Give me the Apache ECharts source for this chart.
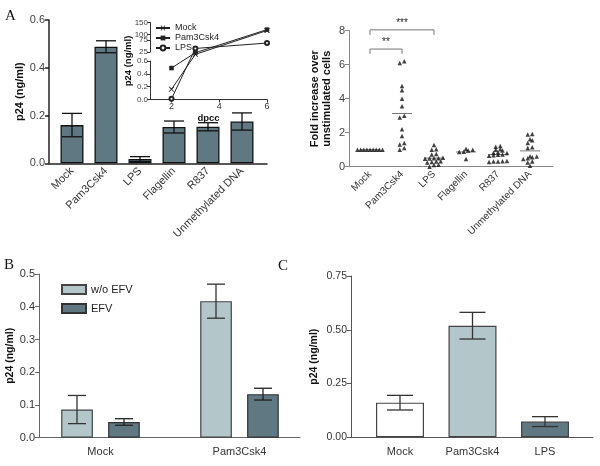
<!DOCTYPE html>
<html><head><meta charset="utf-8">
<script src="https://cdn.jsdelivr.net/npm/echarts@6/dist/echarts.min.js"></script>
<style>html,body{margin:0;padding:0;background:#fff}#c{width:600px;height:466px}</style>
</head><body><div id="c"></div>
<script>
// ---------- Panel A (left): bar chart ----------
const aCategories = ['Mock', 'Pam3Csk4', 'LPS', 'Flagellin', 'R837', 'Unmethylated DNA'];
const aMeans  = [0.160, 0.488, 0.018, 0.152, 0.153, 0.175];
const aErrors = [0.049, 0.025, 0.010, 0.025, 0.017, 0.036];
const aYTicks = [0, 0.2, 0.4, 0.6];

// ---------- Panel A inset: kinetics (broken y axis) ----------
const insetDays = [2, 3, 6];
const insetMock = [0.16, 15, 116];
const insetPam  = [0.49, 22, 120];
const insetLPS  = [0.01, 40, 63];
const insetLowTicks  = [0, 0.2, 0.4, 0.6];
const insetHighTicks = [25, 50, 75, 100, 125, 150];
const insetDayTicks  = [2, 4, 6];

// ---------- Panel A (right): fold increase scatter ----------
const fCategories = ['Mock', 'Pam3Csk4', 'LPS', 'Flagellin', 'R837', 'Unmethylated DNA'];
const fMock  = [1.0, 1.0, 1.0, 1.0, 1.0, 1.0, 1.0, 1.0, 1.0];
const fPam   = [6.1, 6.2, 4.75, 4.5, 4.0, 3.55, 2.9, 3.0, 2.2, 1.8, 1.4, 1.3, 1.0, 1.1];
const fLPS   = [1.27, 1.03, 1.0, 0.75, 0.72, 0.5, 0.5, 0.48, 0.52, 0.47, 0.3, 0.28, 0.32, 0.25, 0.12, 0.1, 0.0];
const fFlag  = [1.0, 0.88, 0.86, 0.95, 1.05, 0.45];
const fR837  = [1.22, 1.18, 1.0, 1.02, 0.95, 0.85, 0.82, 0.8, 0.72, 0.68, 0.65, 0.7, 0.32, 0.3, 0.3, 0.33, 0.28];
const fUnme  = [1.9, 1.92, 1.62, 1.55, 1.4, 1.15, 1.1, 0.62, 0.6, 0.55, 0.5, 0.45, 0.3, 0.25, 0.05];
const fYTicks = [0, 2, 4, 6, 8];
const fBrackets = [
  {from: 0, to: 1, y: 6.92, drop: 0.28, label: '**'},
  {from: 0, to: 2, y: 8.05, drop: 0.3, label: '***'}
];

// ---------- Panel B ----------
const bCategories = ['Mock', 'Pam3Csk4'];
const bSeriesNames = ['w/o EFV', 'EFV'];
const bWithout    = [0.086, 0.417];
const bWithoutErr = [0.043, 0.052];
const bEFV        = [0.048, 0.133];
const bEFVErr     = [0.010, 0.018];
const bYTicks = [0, 0.1, 0.2, 0.3, 0.4, 0.5];

// ---------- Panel C ----------
const cCategories = ['Mock', 'Pam3Csk4', 'LPS'];
const cMeans  = [0.161, 0.519, 0.073];
const cErrors = [0.034, 0.062, 0.023];
const cYTicks = [0, 0.25, 0.5, 0.75];

// ---------- styles ----------
const FONT = "'Liberation Sans', Arial, sans-serif";
const SLATE = '#5f7882';
const LIGHT = '#b3c6ca';
const cBarColors = ['#ffffff', LIGHT, SLATE];

// broken-axis geometry for the inset (pixels within the inset)
const insetBottom = 99.5, insetLowTop = 61, insetHighBottom = 52, insetHighTop = 22.5;
const insetFull = insetBottom - insetHighTop;
function insetTf(v) {
  const lo = insetLowTicks[0], hi = insetLowTicks[insetLowTicks.length - 1];
  if (v <= hi) return (v - lo) / (hi - lo) * (insetBottom - insetLowTop);
  const h0 = insetHighTicks[0], h1 = insetHighTicks[insetHighTicks.length - 1];
  return (insetBottom - insetHighBottom) + (v - h0) / (h1 - h0) * (insetHighBottom - insetHighTop);
}

function swarm(vals, idx) {
  const sorted = vals.slice().sort((a, b) => a - b);
  const rows = [];
  sorted.forEach(v => {
    const r = rows[rows.length - 1];
    if (r && v - r[0] < 0.16) r.push(v); else rows.push([v]);
  });
  const pts = [];
  rows.forEach(r => {
    const n = r.length;
    const sp = n > 1 ? Math.min(0.14, 0.78 / (n - 1)) : 0;
    r.forEach((v, k) => pts.push([idx + (k - (n - 1) / 2) * sp, v]));
  });
  return pts;
}
const fGroups = [fMock, fPam, fLPS, fFlag, fR837, fUnme];
const fPoints = [];
fGroups.forEach((g, i) => swarm(g, i).forEach(p => fPoints.push(p)));
const fMeanData = fGroups.map((g, i) => [i, g.reduce((s, v) => s + v, 0) / g.length]);

function errSeries(xi, yi, means, errs, cap, offset, color) {
  return {
    type: 'custom', xAxisIndex: xi, yAxisIndex: yi, z: 10, silent: true,
    data: means.map((m, i) => [i, m - errs[i], m + errs[i]]),
    renderItem(params, api) {
      const x = api.value(0);
      const lo = api.coord([x, api.value(1)]);
      const hi = api.coord([x, api.value(2)]);
      const cx = lo[0] + offset;
      const st = {stroke: color || '#222', lineWidth: 1.3};
      return {type: 'group', children: [
        {type: 'line', shape: {x1: cx, y1: lo[1], x2: cx, y2: hi[1]}, style: st},
        {type: 'line', shape: {x1: cx - cap / 2, y1: lo[1], x2: cx + cap / 2, y2: lo[1]}, style: st},
        {type: 'line', shape: {x1: cx - cap / 2, y1: hi[1], x2: cx + cap / 2, y2: hi[1]}, style: st}
      ]};
    }
  };
}

function frameX(gi, color, w) {
  return {gridIndex: gi, type: 'value', min: 0, max: 1,
    axisLine: {show: true, lineStyle: {color: color, width: w}},
    axisTick: {show: false}, axisLabel: {show: false}, splitLine: {show: false}};
}
function hiddenY(gi, min, max) {
  return {gridIndex: gi, type: 'value', min: min, max: max, show: false, splitLine: {show: false}};
}
function hiddenX(gi) {
  return {gridIndex: gi, type: 'value', min: 0, max: 1, show: false, splitLine: {show: false}};
}
function catX(gi, data, fs, rotate, color, margin) {
  return {gridIndex: gi, type: 'category', data: data,
    axisLine: {show: false}, axisTick: {show: false}, splitLine: {show: false},
    axisLabel: {interval: 0, rotate: rotate, fontSize: fs, color: color, fontFamily: FONT, margin: margin}};
}
function visY(gi, ticks, fmt, fs, color, lineColor, lw, name, nameGap, nameFs) {
  return {gridIndex: gi, type: 'value', min: ticks[0], max: ticks[ticks.length - 1],
    interval: ticks[1] - ticks[0],
    axisLine: {show: true, lineStyle: {color: lineColor, width: lw}},
    axisTick: {show: true, length: 4, lineStyle: {color: lineColor, width: lw}},
    axisLabel: {fontSize: fs, color: color, fontFamily: FONT, margin: 4, formatter: fmt,
      showMinLabel: true, showMaxLabel: true, hideOverlap: false},
    splitLine: {show: false},
    name: name, nameLocation: 'middle', nameGap: nameGap, nameRotate: 90,
    nameTextStyle: {fontSize: nameFs, fontWeight: 'bold', color: '#111', fontFamily: FONT, lineHeight: nameFs + 1}};
}

const mockSymbol = 'path://M0,0L2,0L5,3L8,0L10,0L6,4L10,8L8,8L5,5L2,8L0,8L4,4Z';

const grids = [
  {left: 49, top: 20, width: 218, height: 143.3},          // 0 A frame
  {left: 55, top: 20, width: 204, height: 143.3},          // 1 A data
  {left: 150, top: insetHighTop, width: 117, height: insetFull},  // 2 inset lines
  {left: 150, top: insetLowTop, width: 117, height: insetBottom - insetLowTop}, // 3 inset low
  {left: 150, top: insetHighTop, width: 117, height: insetHighBottom - insetHighTop}, // 4 inset high
  {left: 349, top: 30.7, width: 204, height: 136},         // 5 A-right frame
  {left: 354, top: 30.7, width: 192, height: 136},         // 6 A-right data
  {left: 39, top: 274, width: 261, height: 163.7},         // 7 B frame
  {left: 31, top: 274, width: 278, height: 163.7},         // 8 B data
  {left: 351, top: 276, width: 242, height: 161.3},        // 9 C frame
  {left: 363.75, top: 276, width: 217.5, height: 161.3}    // 10 C data
].map(g => Object.assign({outerBoundsMode: 'none', containLabel: false}, g));

const xAxes = [
  frameX(0, '#222', 1.5),                                   // 0
  catX(1, aCategories, 11, 45, '#333', 6),                  // 1
  {gridIndex: 2, type: 'value', min: 1.1, max: 6,           // 2
    axisLine: {show: true, lineStyle: {color: '#333', width: 1}},
    axisTick: {show: true, length: 3, customValues: insetDayTicks},
    axisLabel: {fontSize: 9, color: '#333', fontFamily: FONT, margin: 3, customValues: insetDayTicks},
    splitLine: {show: false},
    name: 'dpcc', nameLocation: 'middle', nameGap: 14,
    nameTextStyle: {fontSize: 9.5, fontWeight: 'bold', color: '#111', fontFamily: FONT}},
  hiddenX(3),                                               // 3
  hiddenX(4),                                               // 4
  frameX(5, '#888', 1),                                     // 5
  catX(6, fCategories, 10, 45, '#333', 6),                  // 6
  {gridIndex: 6, type: 'value', min: -0.5, max: 5.5, show: false, splitLine: {show: false}}, // 7
  frameX(7, '#666', 1),                                     // 8
  catX(8, bCategories, 11, 0, '#333', 9),                   // 9
  frameX(9, '#555', 1),                                     // 10
  catX(10, cCategories, 11, 0, '#333', 9)                   // 11
];

const yAxes = [
  visY(0, aYTicks, v => v.toFixed(1), 11, '#444', '#222', 1.5, 'p24 (ng/ml)', 22, 11),   // 0
  hiddenY(1, aYTicks[0], aYTicks[aYTicks.length - 1]),                                   // 1
  {gridIndex: 2, type: 'value', min: 0, max: insetFull, axisLine: {show: false},          // 2
    axisTick: {show: false}, axisLabel: {show: false}, splitLine: {show: false},
    name: 'p24 (ng/ml)', nameLocation: 'middle', nameGap: 17, nameRotate: 90,
    nameTextStyle: {fontSize: 9.5, fontWeight: 'bold', color: '#111', fontFamily: FONT}},
  visY(3, insetLowTicks, v => v.toFixed(1), 8, '#444', '#333', 1, '', 0, 9),             // 3
  visY(4, insetHighTicks, v => String(v), 8, '#444', '#333', 1, '', 0, 9),               // 4
  visY(5, fYTicks, v => String(v), 11, '#444', '#888', 1, 'Fold increase over\nunstimulated cells', 16, 11), // 5
  hiddenY(6, fYTicks[0], fYTicks[fYTicks.length - 1]),                                    // 6
  visY(7, bYTicks, v => v.toFixed(1), 11, '#333', '#666', 1, 'p24 (ng/ml)', 19, 10.5),    // 7
  hiddenY(8, bYTicks[0], bYTicks[bYTicks.length - 1]),                                    // 8
  visY(9, cYTicks, v => v.toFixed(2), 10.5, '#333', '#555', 1, 'p24 (ng/ml)', 31, 10.5),  // 9
  hiddenY(10, cYTicks[0], cYTicks[cYTicks.length - 1])                                    // 10
];
yAxes[3].axisTick.length = 3; yAxes[4].axisTick.length = 3;
yAxes[3].axisLabel.margin = 2; yAxes[4].axisLabel.margin = 2;
yAxes[3].axisLabel.lineHeight = 8; yAxes[4].axisLabel.lineHeight = 8;

const lineStyleInset = {color: '#222', width: 1};
const series = [
  // Panel A bars
  {type: 'bar', name: 'A', xAxisIndex: 1, yAxisIndex: 1, data: aMeans, barWidth: 23,
    itemStyle: {color: SLATE, borderColor: '#111', borderWidth: 1.3}, silent: true},
  errSeries(1, 1, aMeans, aErrors, 20, 0, '#111'),
  // inset
  {type: 'line', name: 'Mock', xAxisIndex: 2, yAxisIndex: 2, clip: false,
    data: insetDays.map((d, i) => [d, insetTf(insetMock[i])]),
    symbol: mockSymbol, symbolSize: [6, 5], itemStyle: {color: '#222'}, lineStyle: lineStyleInset},
  {type: 'line', name: 'Pam3Csk4', xAxisIndex: 2, yAxisIndex: 2, clip: false,
    data: insetDays.map((d, i) => [d, insetTf(insetPam[i])]),
    symbol: 'rect', symbolSize: 4.5, itemStyle: {color: '#222'}, lineStyle: lineStyleInset},
  {type: 'line', name: 'LPS', xAxisIndex: 2, yAxisIndex: 2, clip: false,
    data: insetDays.map((d, i) => [d, insetTf(insetLPS[i])]),
    symbol: 'emptyCircle', symbolSize: 4, itemStyle: {color: '#222', borderWidth: 0.8}, lineStyle: lineStyleInset},
  // Panel A right scatter
  {type: 'custom', name: 'means', xAxisIndex: 7, yAxisIndex: 6, silent: true, data: fMeanData,
    renderItem(params, api) {
      const p = api.coord([api.value(0), api.value(1)]);
      return {type: 'line', shape: {x1: p[0] - 10, y1: p[1], x2: p[0] + 10, y2: p[1]},
        style: {stroke: '#777', lineWidth: 1}};
    }},
  {type: 'scatter', name: 'pts', xAxisIndex: 7, yAxisIndex: 6, data: fPoints,
    symbol: 'triangle', symbolSize: 4.5, itemStyle: {color: '#111'}, silent: true},
  {type: 'custom', name: 'brackets', xAxisIndex: 7, yAxisIndex: 6, silent: true, clip: false,
    data: fBrackets.map(b => [b.from, b.y, b.to, b.drop]),
    renderItem(params, api) {
      const b = fBrackets[params.dataIndex];
      const a = api.coord([b.from, b.y]);
      const c = api.coord([b.to, b.y]);
      const d = api.coord([b.from, b.y - b.drop]);
      return {type: 'group', children: [
        {type: 'polyline', shape: {points: [[a[0], d[1]], a, c, [c[0], d[1]]]},
          style: {stroke: '#777', lineWidth: 1, fill: null}},
        {type: 'text', x: (a[0] + c[0]) / 2, y: a[1] - 2,
          style: {text: b.label, fontSize: 10, fill: '#222', align: 'center', verticalAlign: 'bottom', fontFamily: FONT}}
      ]};
    }},
  // Panel B
  {type: 'bar', name: bSeriesNames[0], xAxisIndex: 9, yAxisIndex: 8, data: bWithout, barWidth: 31.7, barGap: '48%',
    itemStyle: {color: LIGHT, borderColor: '#444', borderWidth: 1.2}, silent: true},
  {type: 'bar', name: bSeriesNames[1], xAxisIndex: 9, yAxisIndex: 8, data: bEFV, barWidth: 31.7, barGap: '48%',
    itemStyle: {color: SLATE, borderColor: '#333', borderWidth: 1.2}, silent: true},
  errSeries(9, 8, bWithout, bWithoutErr, 18, -23.5, '#333'),
  errSeries(9, 8, bEFV, bEFVErr, 18, 23.5, '#222'),
  // Panel C
  {type: 'bar', name: 'C', xAxisIndex: 11, yAxisIndex: 10, barWidth: 48, silent: true,
    data: cMeans.map((v, i) => ({value: v, itemStyle: {color: cBarColors[i]}})),
    itemStyle: {borderColor: '#444', borderWidth: 1.2}},
  errSeries(11, 10, cMeans, cErrors, 26, 0, '#333')
];

const option = {
  animation: false,
  backgroundColor: '#fff',
  textStyle: {fontFamily: FONT},
  grid: grids,
  xAxis: xAxes,
  yAxis: yAxes,
  legend: [
    {data: ['Mock', 'Pam3Csk4', 'LPS'], orient: 'vertical', left: 150, top: 18,
      itemWidth: 14, itemHeight: 6, itemGap: 0, selectedMode: false,
      textStyle: {fontSize: 9, color: '#222', lineHeight: 10, fontFamily: FONT}},
    {data: bSeriesNames, orient: 'vertical', left: 56, top: 278,
      itemWidth: 24, itemHeight: 9, itemGap: 6, icon: 'rect', selectedMode: false,
      textStyle: {fontSize: 11, color: '#222', lineHeight: 13, fontFamily: FONT}}
  ],
  graphic: [
    {type: 'text', left: 5, top: 9, style: {text: 'A', fontSize: 15, fontFamily: "'Liberation Serif', 'DejaVu Serif', serif", fill: '#111'}},
    {type: 'text', left: 4, top: 258, style: {text: 'B', fontSize: 15, fontFamily: "'Liberation Serif', 'DejaVu Serif', serif", fill: '#111'}},
    {type: 'text', left: 278, top: 259, style: {text: 'C', fontSize: 15, fontFamily: "'Liberation Serif', 'DejaVu Serif', serif", fill: '#111'}}
  ],
  series: series
};

const chart = echarts.init(document.getElementById('c'), null, {renderer: 'canvas'});
chart.setOption(option);
</script>
</body></html>
